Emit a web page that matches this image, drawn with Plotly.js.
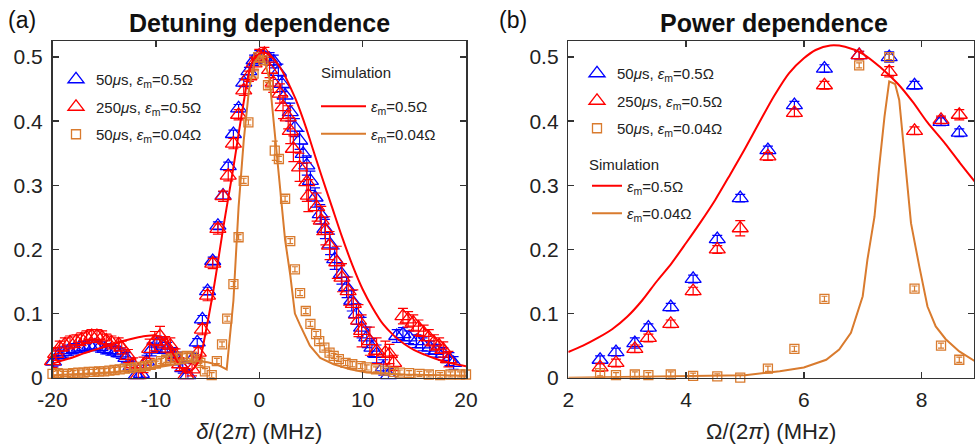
<!DOCTYPE html>
<html>
<head>
<meta charset="utf-8">
<script src="https://cdn.plot.ly/plotly-3.0.1.min.js"></script>
<style>html,body{margin:0;padding:0;background:#fff;}#chart{width:975px;height:444px;}</style>
</head>
<body>
<div id="chart"></div>
<script>
// ---------- Panel (a): detuning dependence ----------
const blueDelta = [-19.9,-19.4,-18.9,-18.4,-17.9,-17.4,-16.9,-16.4,-15.9,-15.4,-14.9,-14.4,-13.9,-13.4,-12.9,-12.4,-11.9,-11.4,-10.9,-10.4,-9.9,-9.4,-8.9,-8.4,-7.9,-7.4,-6.9,-6.4,
  -6.0,-5.5,-5.0,-4.5,-4.0,-3.5,-3.0,-2.5,-2.0,-1.5,-1.0,-0.5,0,0.5,
  1.0,1.4,1.85,2.2,2.5,3.0,3.45,3.9,4.25,4.6,4.95,5.4,5.9,6.35,6.85,7.3,7.95,8.45,8.95,9.4,9.9,10.4,10.9,11.35,12.0,12.5,
  13.3,13.9,14.5,15.2,15.8,16.5,17.1,17.8,18.4,18.8];
const blueP = [0.025,0.035,0.040,0.043,0.045,0.047,0.048,0.050,0.050,0.048,0.045,0.043,0.041,0.038,0.031,0.018,0.004,0.006,0.025,0.044,0.053,0.050,0.045,0.037,0.030,0.015,0.004,0.030,
  0.055,0.091,0.135,0.182,0.237,0.284,0.330,0.380,0.420,0.460,0.478,0.495,0.502,0.500,
  0.497,0.493,0.477,0.458,0.440,0.414,0.390,0.370,0.349,0.331,0.307,0.281,0.255,0.232,0.208,0.185,0.162,0.141,0.120,0.099,0.078,0.063,0.047,0.037,0.016,0.004,
  0.065,0.068,0.063,0.057,0.052,0.047,0.042,0.037,0.029,0.023];
const blueErr = [0.008,0.008,0.008,0.008,0.008,0.008,0.008,0.008,0.008,0.008,0.008,0.008,0.008,0.008,0.008,0.008,0.008,0.008,0.010,0.010,0.012,0.012,0.010,0.010,0.010,0.008,0.008,0.008,
  0.006,0.006,0.006,0.006,0.006,0.006,0.006,0.006,0.006,0.006,0.006,0.008,0.008,0.008,
  0.010,0.010,0.012,0.012,0.012,0.014,0.014,0.014,0.015,0.015,0.015,0.015,0.015,0.015,0.016,0.016,0.016,0.016,0.016,0.016,0.016,0.016,0.014,0.014,0.012,0.010,
  0.010,0.010,0.010,0.010,0.010,0.010,0.010,0.010,0.010,0.010];

const redDelta = [-20.0,-19.7,-19.3,-18.8,-18.3,-17.7,-17.2,-16.7,-16.2,-15.7,-15.2,-14.8,-14.3,-13.6,-13.3,-12.7,-12.2,-11.7,-11.2,-10.6,-10.1,-9.6,-9.1,-8.6,-8.1,-7.7,-7.1,-6.5,
  -5.9,-5.5,-5.0,-4.5,-4.0,-3.5,-3.0,-2.5,-2.0,-1.5,-1.0,-0.5,0,0.5,
  1.0,1.35,2.0,2.3,2.8,3.0,3.3,3.9,4.6,4.75,5.55,6.0,6.4,6.8,7.5,8.0,8.6,9.1,9.6,9.9,10.7,11.35,12.2,12.6,13.0,
  13.9,14.4,14.9,15.4,15.9,16.4,16.9,17.4,17.8,18.3];
const redP = [0.026,0.037,0.047,0.052,0.055,0.057,0.060,0.063,0.065,0.065,0.063,0.058,0.055,0.052,0.047,0.034,0.021,0.004,0.020,0.045,0.057,0.065,0.052,0.050,0.035,0.021,0.004,0.013,
  0.039,0.075,0.128,0.178,0.232,0.283,0.315,0.365,0.410,0.448,0.470,0.490,0.502,0.505,
  0.480,0.460,0.443,0.422,0.406,0.385,0.357,0.328,0.305,0.284,0.266,0.245,0.229,0.206,0.180,0.156,0.135,0.115,0.089,0.073,0.057,0.042,0.039,0.037,0.023,
  0.096,0.091,0.086,0.078,0.070,0.063,0.055,0.050,0.044,0.029];
const redErr = [0.010,0.010,0.010,0.010,0.010,0.010,0.010,0.010,0.010,0.010,0.010,0.010,0.010,0.010,0.010,0.010,0.010,0.010,0.012,0.015,0.015,0.015,0.012,0.012,0.010,0.010,0.010,0.010,
  0.008,0.008,0.008,0.008,0.008,0.008,0.008,0.008,0.008,0.008,0.008,0.010,0.010,0.010,
  0.012,0.015,0.015,0.018,0.018,0.020,0.020,0.022,0.030,0.025,0.022,0.022,0.022,0.022,0.025,0.022,0.022,0.022,0.025,0.025,0.022,0.020,0.018,0.015,0.012,
  0.012,0.012,0.012,0.012,0.012,0.012,0.012,0.012,0.012,0.012];

const orangeDelta = [-20,-19.5,-19,-18.5,-18,-17.5,-17,-16.5,-16,-15.5,-15,-14.5,-14,-13.5,-13,-12.5,-12,-11.5,-11,-10.5,-10,-9.5,-9,-8.5,-8,-7.5,-7,-6.5,-6,
  -5.7,-5.25,-4.6,-4.1,-3.6,-3.1,
  -2.5,-2.0,-1.5,-1.05,-0.55,-0.1,0.4,0.85,
  1.5,1.9,2.5,3.0,3.45,3.95,4.5,4.95,5.5,5.8,6.3,6.8,7.2,7.7,8.35,9.0,9.8,10.4,11.3,12.2,13.0,13.6,14.5,15.5,16.4,17.5,18.5,19.4,20];
const orangeP = [0.006,0.007,0.006,0.006,0.007,0.008,0.008,0.009,0.009,0.010,0.010,0.011,0.012,0.013,0.014,0.015,0.016,0.017,0.018,0.020,0.022,0.026,0.028,0.030,0.031,0.033,0.034,0.033,0.029,
  0.023,0.010,0.004,0.026,0.052,0.092,
  0.146,0.219,0.307,0.398,0.474,0.500,0.495,0.456,
  0.354,0.341,0.279,0.213,0.169,0.132,0.104,0.084,0.068,0.057,0.047,0.039,0.034,0.029,0.023,0.021,0.018,0.016,0.013,0.011,0.009,0.008,0.007,0.006,0.005,0.004,0.005,0.005,0.005];
const orangeErr = [0.004,0.004,0.004,0.004,0.004,0.004,0.004,0.004,0.004,0.004,0.004,0.004,0.004,0.004,0.004,0.004,0.004,0.004,0.004,0.004,0.004,0.004,0.004,0.004,0.004,0.004,0.004,0.004,0.004,
  0.004,0.004,0.004,0.004,0.004,0.004,
  0.004,0.004,0.004,0.004,0.004,0.004,0.004,0.004,
  0.015,0.004,0.004,0.004,0.004,0.004,0.004,0.004,0.004,0.004,0.004,0.004,0.004,0.004,0.004,0.004,0.004,0.004,0.004,0.004,0.004,0.004,0.004,0.004,0.004,0.004,0.004,0.004,0.004];

const simDeltaRed = [-20,-19,-18,-17,-16,-15,-14,-13,-12,-11,-10,-9.5,-9,-8.5,-8,-7.5,-7,-6.5,-6,-5.7,-5.25,-4.5,-4,-3.5,-3,-2.5,-2,-1.5,-1,-0.5,0,0.5,1,1.5,2,2.5,3,3.5,4,4.5,5,6,7,8,9,10,11,12,13,14,15,16,17,18,19,20];
const simRed = [0.022,0.027,0.032,0.038,0.043,0.048,0.053,0.058,0.062,0.065,0.066,0.063,0.055,0.042,0.027,0.014,0.008,0.012,0.022,0.031,0.065,0.130,0.180,0.232,0.280,0.328,0.380,0.430,0.476,0.498,0.505,0.507,0.503,0.495,0.484,0.470,0.453,0.435,0.414,0.391,0.366,0.316,0.268,0.220,0.176,0.138,0.108,0.083,0.066,0.053,0.043,0.036,0.030,0.025,0.021,0.018];
const simDeltaOrange = [-20,-18,-16,-14,-12,-10,-8,-6,-5,-4,-3.15,-2.5,-2,-1.5,-1,-0.5,0,0.5,1,1.5,2,2.5,3,3.45,3.95,4.9,5.9,7.2,8.8,10.4,14,20];
const simOrange = [0.004,0.005,0.007,0.009,0.012,0.016,0.021,0.026,0.024,0.020,0.013,0.120,0.266,0.370,0.448,0.490,0.502,0.495,0.465,0.380,0.290,0.215,0.160,0.100,0.082,0.050,0.031,0.021,0.013,0.008,0.005,0.003];

// ---------- Panel (b): power dependence ----------
const omegaData = [2.54,2.81,3.13,3.36,3.74,4.12,4.53,4.92,5.39,5.84,6.35,6.94,7.45,7.88,8.33,8.64];
const powBlue = [0.028,0.040,0.054,0.078,0.110,0.154,0.216,0.280,0.355,0.425,0.482,0.503,0.500,0.456,0.399,0.382];
const powBlueErr = [0.006,0.006,0.008,0.006,0.006,0.006,0.006,0.006,0.006,0.006,0.006,0.006,0.008,0.006,0.006,0.006];
const powRed = [0.016,0.023,0.045,0.062,0.084,0.135,0.200,0.233,0.345,0.413,0.456,0.503,0.477,0.385,0.402,0.410];
const powRedErr = [0.006,0.006,0.006,0.006,0.006,0.006,0.006,0.012,0.006,0.006,0.006,0.006,0.008,0.006,0.006,0.008];
const powOrange = [0.007,0.004,0.005,0.004,0.005,0.003,0.002,0.000,0.014,0.045,0.123,0.487,0.500,0.139,0.050,0.028];
const powOrangeErr = [0.004,0.004,0.004,0.004,0.004,0.004,0.004,0.004,0.004,0.004,0.004,0.004,0.004,0.004,0.004,0.004];

const simOmegaRed = [2,2.25,2.5,2.75,3,3.25,3.5,3.75,4,4.25,4.5,4.75,5,5.25,5.5,5.75,6,6.2,6.45,6.7,7,7.3,7.6,7.85,8.1,8.4,8.65,8.9];
const simPowRed = [0.040,0.050,0.062,0.076,0.095,0.120,0.150,0.178,0.210,0.243,0.278,0.317,0.357,0.399,0.440,0.475,0.498,0.511,0.518,0.516,0.505,0.484,0.458,0.430,0.398,0.365,0.335,0.306];
const simOmegaOrange = [2,3,4,4.5,5,5.59,6,6.38,6.6,6.8,7,7.08,7.2,7.28,7.37,7.45,7.55,7.62,7.73,7.82,7.96,8.1,8.24,8.41,8.64,8.9];
const simPowOrange = [0.000,0.001,0.002,0.003,0.004,0.010,0.016,0.028,0.044,0.070,0.127,0.184,0.251,0.329,0.407,0.462,0.458,0.433,0.329,0.241,0.174,0.111,0.080,0.060,0.041,0.026];

// axis ticks
const deltaTickVals = [-20,-10,0,10,20];
const deltaTickText = ['-20','-10','0','10','20'];
const omegaTickVals = [2,4,6,8];
const pTickVals = [0,0.1,0.2,0.3,0.4,0.5];
const pTickText = ['0','0.1','0.2','0.3','0.4','0.5'];

const BLUE = '#0000ff', RED = '#ff0000', ORANGE = '#d97b2e';
const FONT = 'Liberation Sans, Arial, sans-serif';
const it = s => '<i>' + s + '</i>';
const lab = (t, e) => t + it('μ') + 's, ' + it('ε') + '<sub>m</sub>=' + e + 'Ω';

function dataTrace(x, y, err, color, symbol, size, name, xa, ya, legend, show) {
  return {
    type: 'scatter', mode: 'markers', x: x, y: y, xaxis: xa, yaxis: ya,
    name: name, legend: legend, showlegend: show, legendgroup: name + legend,
    cliponaxis: false,
    marker: {symbol: symbol, size: size, color: color, line: {color: color, width: 1.3}},
    error_y: {type: 'data', array: err, visible: true, color: color, thickness: 1.2, width: symbol.indexOf('square') === 0 ? 3 : 5}
  };
}
function simTrace(x, y, color, name, xa, ya, legend, show, smooth) {
  return {type: 'scatter', mode: 'lines', x: x, y: y, xaxis: xa, yaxis: ya,
    name: name, legend: legend, showlegend: show, legendgroup: name + legend,
    line: {color: color, width: 2, shape: smooth ? 'spline' : 'linear', smoothing: 0.8}};
}

const traces = [
  dataTrace(blueDelta, blueP, blueErr, BLUE, 'triangle-up-open', 14, lab('50', '0.5'), 'x', 'y', 'legend', true),
  dataTrace(redDelta, redP, redErr, RED, 'triangle-up-open', 14, lab('250', '0.5'), 'x', 'y', 'legend', true),
  dataTrace(orangeDelta, orangeP, orangeErr, ORANGE, 'square-open', 9, lab('50', '0.04'), 'x', 'y', 'legend', true),
  simTrace(simDeltaRed, simRed, RED, it('ε') + '<sub>m</sub>=0.5Ω', 'x', 'y', 'legend2', true, true),
  simTrace(simDeltaOrange, simOrange, ORANGE, it('ε') + '<sub>m</sub>=0.04Ω', 'x', 'y', 'legend2', true, false),

  dataTrace(omegaData, powBlue, powBlueErr, BLUE, 'triangle-up-open', 14, lab('50', '0.5'), 'x2', 'y2', 'legend3', true),
  dataTrace(omegaData, powRed, powRedErr, RED, 'triangle-up-open', 14, lab('250', '0.5'), 'x2', 'y2', 'legend3', true),
  dataTrace(omegaData, powOrange, powOrangeErr, ORANGE, 'square-open', 9, lab('50', '0.04'), 'x2', 'y2', 'legend3', true),
  simTrace(simOmegaRed, simPowRed, RED, it('ε') + '<sub>m</sub>=0.5Ω', 'x2', 'y2', 'legend4', true, true),
  simTrace(simOmegaOrange, simPowOrange, ORANGE, it('ε') + '<sub>m</sub>=0.04Ω', 'x2', 'y2', 'legend4', true, false)
];

const W = 975, H = 444;
const axBase = {
  showline: true, linecolor: '#333', linewidth: 1.5, mirror: 'ticks',
  ticks: 'inside', ticklen: 6, tickwidth: 1.5, tickcolor: '#333',
  showgrid: false, zeroline: false,
  tickfont: {family: FONT, size: 21, color: '#222'}
};
const legBase = {
  bgcolor: 'rgba(0,0,0,0)', borderwidth: 0, font: {family: FONT, size: 15, color: '#222'},
  xanchor: 'left', yanchor: 'top', traceorder: 'grouped', tracegroupgap: 5
};
const yDom = [1 - 377.7 / H, 1 - 41 / H];

const layout = {
  width: W, height: H, margin: {l: 0, r: 0, t: 0, b: 0},
  paper_bgcolor: '#fff', plot_bgcolor: '#fff',
  font: {family: FONT, color: '#222'},
  xaxis: Object.assign({}, axBase, {domain: [52.5 / W, 466 / W], range: [-20, 20], tickvals: deltaTickVals, ticktext: deltaTickText,
    ticklabelstandoff: 3,
    title: {text: '<i>δ</i>/(2<i>π</i>) (MHz)', font: {family: FONT, size: 22, color: '#222'}, standoff: 15}, anchor: 'y'}),
  yaxis: Object.assign({}, axBase, {domain: yDom, range: [0, 0.525], tickvals: pTickVals, ticktext: pTickText, anchor: 'x', ticklabelstandoff: 4}),
  xaxis2: Object.assign({}, axBase, {domain: [568.3 / W, 974 / W], range: [2, 8.89], tickvals: omegaTickVals,
    ticklabelstandoff: 3,
    title: {text: 'Ω/(2<i>π</i>) (MHz)', font: {family: FONT, size: 22, color: '#222'}, standoff: 15}, anchor: 'y2'}),
  yaxis2: Object.assign({}, axBase, {domain: yDom, range: [0, 0.525], tickvals: pTickVals, ticktext: pTickText, anchor: 'x2', ticklabelstandoff: 4}),
  legend: Object.assign({}, legBase, {x: 56 / W, y: 1 - 63 / H}),
  legend2: Object.assign({}, legBase, {x: 316 / W, y: 1 - 90 / H, itemwidth: 45}),
  legend3: Object.assign({}, legBase, {x: 577 / W, y: 1 - 57 / H}),
  legend4: Object.assign({}, legBase, {x: 587 / W, y: 1 - 150 / H,
    title: {text: 'Simulation', side: 'top', font: {family: FONT, size: 15, color: '#222'}}}),
  annotations: [
    {text: 'Simulation', xref: 'paper', yref: 'paper', x: 319 / W, y: 1 - 72 / H, xanchor: 'left', yanchor: 'middle', showarrow: false, font: {family: FONT, size: 15, color: '#222'}},
    {text: '(a)', xref: 'paper', yref: 'paper', x: 6 / W, y: 1 - 20 / H, xanchor: 'left', yanchor: 'middle', showarrow: false, font: {family: FONT, size: 23, color: '#111'}},
    {text: '<b>Detuning dependence</b>', xref: 'paper', yref: 'paper', x: 259 / W, y: 1 - 23 / H, xanchor: 'center', yanchor: 'middle', showarrow: false, font: {family: FONT, size: 25, color: '#111'}},
    {text: '(b)', xref: 'paper', yref: 'paper', x: 497 / W, y: 1 - 20 / H, xanchor: 'left', yanchor: 'middle', showarrow: false, font: {family: FONT, size: 23, color: '#111'}},
    {text: '<b>Power dependence</b>', xref: 'paper', yref: 'paper', x: 774 / W, y: 1 - 23 / H, xanchor: 'center', yanchor: 'middle', showarrow: false, font: {family: FONT, size: 25, color: '#111'}}
  ]
};

Plotly.newPlot('chart', traces, layout, {staticPlot: true, displayModeBar: false});
</script>
</body>
</html>
